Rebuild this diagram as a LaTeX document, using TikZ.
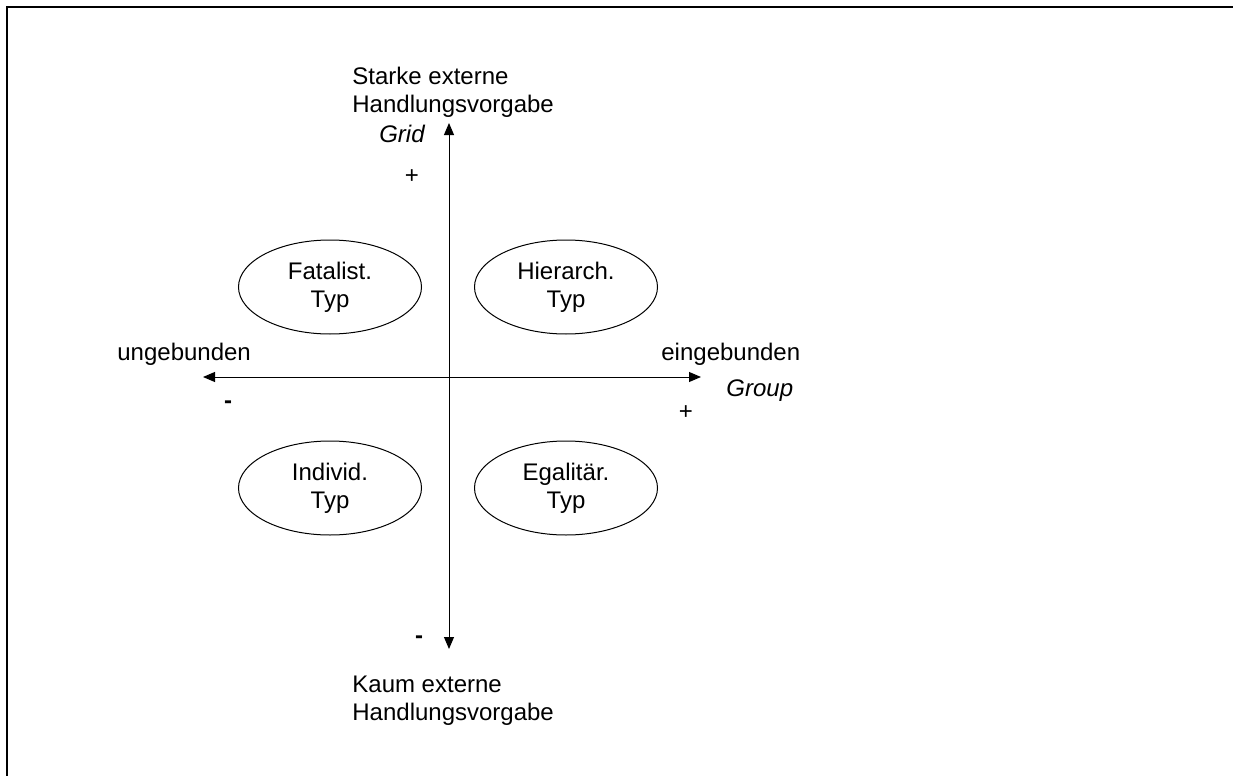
\documentclass[tikz,border=0pt]{standalone}
\usepackage{fontspec}
\setmainfont{Liberation Sans}
\usetikzlibrary{shapes.geometric,arrows.meta}
\tikzset{
  lbl/.style={inner sep=0pt,font=\fontsize{12}{13.8}\selectfont},
  ilbl/.style={lbl,font=\fontsize{12}{13.8}\selectfont\itshape},
  mlbl/.style={lbl,font=\fontsize{12}{13.8}\selectfont\bfseries},
  typ/.style={draw,ellipse,line width=0.5pt,minimum width=91.5pt,minimum height=47pt,inner sep=0pt,align=center,font=\fontsize{12}{13.8}\selectfont},
  axis/.style={line width=0.5pt,{Triangle[length=6pt,width=5pt]}-{Triangle[length=6pt,width=5pt]}},
  frame/.style={line width=1pt}
}
\begin{document}
\begin{tikzpicture}[x=0.5pt,y=-0.5pt]
\useasboundingbox (0,0) rectangle (1233,776);
\coordinate (fa) at (1233,7);
\coordinate (fb) at (7,7);
\coordinate (fc) at (7,776);
\draw[frame] (fa) -- (fb) -- (fc);
% axes
\coordinate (gtop) at (449,123);
\coordinate (gbot) at (449,649);
\coordinate (hl) at (203,377);
\coordinate (hr) at (701,377);
\draw[axis] (gbot) -- (gtop);
\draw[axis] (hl) -- (hr);
% ellipses
\node[typ] (fat) at (330,287) {Fatalist.\\Typ};
\node[typ] (hier) at (566,287) {Hierarch.\\Typ};
\node[typ] (ind) at (330,488) {Individ.\\Typ};
\node[typ] (ega) at (566,488) {Egalitär.\\Typ};
% labels
\node[lbl,anchor=north west,align=left] (top) at (352,67) {Starke externe\\Handlungsvorgabe};
\node[ilbl,anchor=east] (grid) at (425,134) {Grid};
\node[lbl] (gplus) at (412,177) {+};
\node[mlbl] (gminus) at (419,640) {-};
\node[lbl,anchor=north west,align=left] (bot) at (352,676) {Kaum externe\\Handlungsvorgabe};
\node[lbl,anchor=west] (ung) at (117,354) {ungebunden};
\node[mlbl] (hminus) at (228,405) {-};
\node[lbl,anchor=west] (ein) at (661,354) {eingebunden};
\node[ilbl,anchor=west] (grp) at (726,391) {Group};
\node[lbl] (hplus) at (686,413) {+};
\end{tikzpicture}
\end{document}
